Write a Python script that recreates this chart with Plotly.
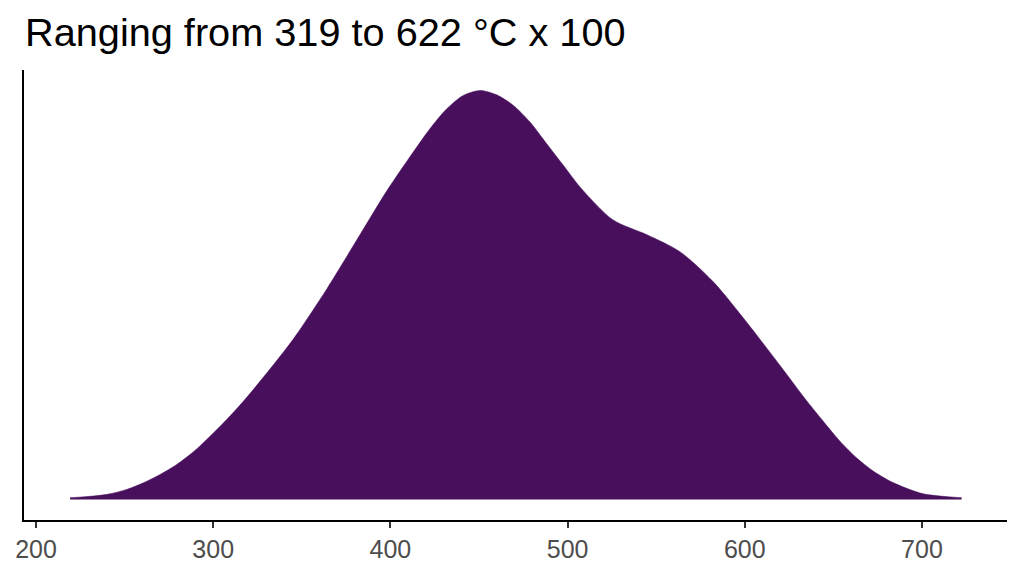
import plotly.graph_objects as go

# density estimate (temperature / 100 scale)
temp = [219.2, 232.3, 241.8, 251.2, 260.6, 270.0, 279.4, 288.8, 298.2, 307.6,
        317.0, 326.4, 345.0, 364.2, 382.8, 397.9, 412.9, 422.3, 431.8, 441.1,
        450.6, 460.0, 469.4, 478.8, 488.2, 497.6, 507.0, 525.6, 544.8, 563.4,
        582.1, 601.2, 619.9, 634.9, 644.3, 653.7, 663.1, 672.5, 681.9, 691.4,
        700.7, 710.2, 722.4]
density = [0.000021, 0.000041, 0.000067, 0.000118, 0.000195, 0.000292, 0.000408,
           0.000555, 0.000737, 0.000931, 0.001143, 0.001375, 0.001862, 0.002454,
           0.003081, 0.003590, 0.004044, 0.004314, 0.004546, 0.004702, 0.004760,
           0.004709, 0.004586, 0.004392, 0.004140, 0.003890, 0.003638, 0.003255,
           0.003081, 0.002884, 0.002536, 0.002060, 0.001560, 0.001150, 0.000911,
           0.000679, 0.000485, 0.000331, 0.000215, 0.000130, 0.000067, 0.000041,
           0.000021]
x_ticks = [200, 300, 400, 500, 600, 700]
title_text = "Ranging from 319 to 622 °C x 100"

peak = max(density)

fig = go.Figure()
fig.add_trace(go.Scatter(
    x=temp, y=density, mode="lines", line_shape="spline",
    line=dict(color="#480f5c", width=0.5, smoothing=0.8),
    fill="tozeroy", fillcolor="#480f5c", hoverinfo="skip", showlegend=False,
))

fig.update_layout(
    width=1024, height=576,
    margin=dict(l=24, r=17, t=70, b=56),
    paper_bgcolor="white", plot_bgcolor="white",
    font=dict(family="Liberation Sans, Arial, sans-serif"),
    title=dict(text=title_text, xref="container", yref="container",
               x=25 / 1024, xanchor="left", y=1 - 32 / 576, yanchor="middle",
               font=dict(size=39.7, color="black")),
    xaxis=dict(range=[193.2, 748], tickvals=x_ticks, showgrid=False, zeroline=False,
               showline=True, linecolor="black", linewidth=2,
               ticks="outside", ticklen=6, tickwidth=2, tickcolor="#333333",
               tickfont=dict(size=25, color="#4d4d4d")),
    yaxis=dict(range=[-0.05 * peak, 1.05 * peak], showgrid=False, zeroline=False,
               showline=True, linecolor="black", linewidth=2,
               showticklabels=False, ticks=""),
)

fig.write_html("out.html", config={"displayModeBar": False},
               post_script="document.body.style.margin='0';")
